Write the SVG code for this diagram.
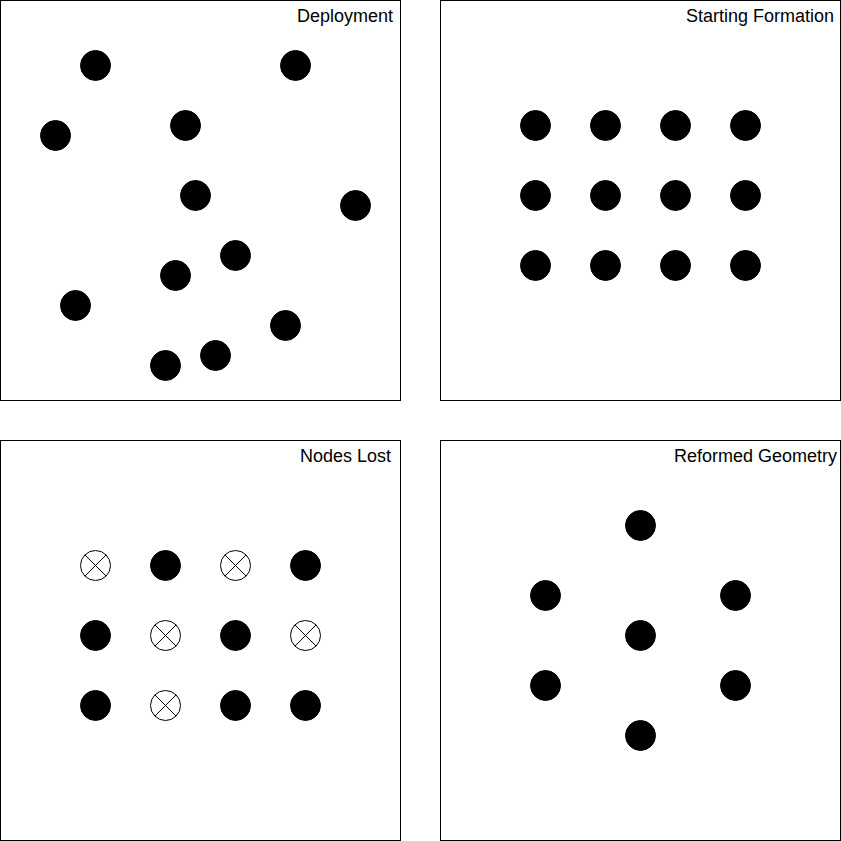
<svg xmlns="http://www.w3.org/2000/svg" width="841" height="841" viewBox="0 0 841 841">
<defs>
<style>
.frame{fill:#fff;stroke:#000;stroke-width:1}
.dot{fill:#000;stroke:#000;stroke-width:1}
.lost{fill:#fff;stroke:#000;stroke-width:1}
.title{font-family:"Liberation Sans",Arial,sans-serif;font-size:18px;fill:#000;text-anchor:end}
</style>
<g id="x-node"><circle class="lost" r="15"/><path d="M-10.6,-10.6L10.6,10.6M10.6,-10.6L-10.6,10.6" stroke="#000" stroke-width="1"/></g>
</defs>
<rect width="841" height="841" fill="#fff"/>
<g id="panel-deployment">
<rect class="frame" x="0.5" y="0.5" width="400" height="400"/>
<text class="title" x="393" y="22">Deployment</text>
<circle class="dot" cx="95.5" cy="65.5" r="15"/>
<circle class="dot" cx="295.5" cy="65.5" r="15"/>
<circle class="dot" cx="55.5" cy="135.5" r="15"/>
<circle class="dot" cx="185.5" cy="125.5" r="15"/>
<circle class="dot" cx="195.5" cy="195.5" r="15"/>
<circle class="dot" cx="355.5" cy="205.5" r="15"/>
<circle class="dot" cx="235.5" cy="255.5" r="15"/>
<circle class="dot" cx="175.5" cy="275.5" r="15"/>
<circle class="dot" cx="75.5" cy="305.5" r="15"/>
<circle class="dot" cx="285.5" cy="325.5" r="15"/>
<circle class="dot" cx="215.5" cy="355.5" r="15"/>
<circle class="dot" cx="165.5" cy="365.5" r="15"/>
</g>
<g id="panel-starting">
<rect class="frame" x="440.5" y="0.5" width="400" height="400"/>
<text class="title" x="834" y="22">Starting Formation</text>
<circle class="dot" cx="535.5" cy="125.5" r="15"/>
<circle class="dot" cx="605.5" cy="125.5" r="15"/>
<circle class="dot" cx="675.5" cy="125.5" r="15"/>
<circle class="dot" cx="745.5" cy="125.5" r="15"/>
<circle class="dot" cx="535.5" cy="195.5" r="15"/>
<circle class="dot" cx="605.5" cy="195.5" r="15"/>
<circle class="dot" cx="675.5" cy="195.5" r="15"/>
<circle class="dot" cx="745.5" cy="195.5" r="15"/>
<circle class="dot" cx="535.5" cy="265.5" r="15"/>
<circle class="dot" cx="605.5" cy="265.5" r="15"/>
<circle class="dot" cx="675.5" cy="265.5" r="15"/>
<circle class="dot" cx="745.5" cy="265.5" r="15"/>
</g>
<g id="panel-lost">
<rect class="frame" x="0.5" y="440.5" width="400" height="400"/>
<text class="title" x="391" y="462">Nodes Lost</text>
<use href="#x-node" x="95.5" y="565.5"/>
<circle class="dot" cx="165.5" cy="565.5" r="15"/>
<use href="#x-node" x="235.5" y="565.5"/>
<circle class="dot" cx="305.5" cy="565.5" r="15"/>
<circle class="dot" cx="95.5" cy="635.5" r="15"/>
<use href="#x-node" x="165.5" y="635.5"/>
<circle class="dot" cx="235.5" cy="635.5" r="15"/>
<use href="#x-node" x="305.5" y="635.5"/>
<circle class="dot" cx="95.5" cy="705.5" r="15"/>
<use href="#x-node" x="165.5" y="705.5"/>
<circle class="dot" cx="235.5" cy="705.5" r="15"/>
<circle class="dot" cx="305.5" cy="705.5" r="15"/>
</g>
<g id="panel-reformed">
<rect class="frame" x="440.5" y="440.5" width="400" height="400"/>
<text class="title" x="837" y="462">Reformed Geometry</text>
<circle class="dot" cx="640.5" cy="525.5" r="15"/>
<circle class="dot" cx="545.5" cy="595.5" r="15"/>
<circle class="dot" cx="735.5" cy="595.5" r="15"/>
<circle class="dot" cx="640.5" cy="635.5" r="15"/>
<circle class="dot" cx="545.5" cy="685.5" r="15"/>
<circle class="dot" cx="735.5" cy="685.5" r="15"/>
<circle class="dot" cx="640.5" cy="735.5" r="15"/>
</g>
<g id="connectors"/>
</svg>
